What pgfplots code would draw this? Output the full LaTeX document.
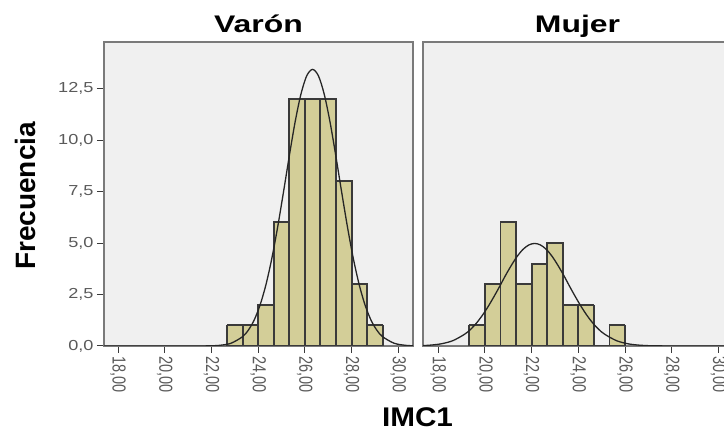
\documentclass[border=0pt]{standalone}
\usepackage{fontspec}
\setmainfont{Liberation Sans}
\usepackage{graphicx}
\usepackage{pgfplots}
\pgfplotsset{compat=1.18}
\definecolor{plotbg}{HTML}{F0F0F0}
\definecolor{barfill}{HTML}{D3CE98}
\definecolor{barline}{HTML}{3A3A3A}
\definecolor{framec}{HTML}{7A7A7A}
\definecolor{tlabel}{HTML}{5A5A5A}
\pgfplotsset{
  panel/.style={
    scale only axis, width=309pt, height=304pt, anchor=south west,
    ymin=0, ymax=14.76,
    xtick={18,20,...,30},
    axis background/.style={fill=plotbg},
    axis line style={draw=framec, line width=1.3pt},
    tick align=outside, major tick length=7pt,
    every tick/.style={draw=barline, line width=1pt},
    xtick pos=bottom, ytick pos=left,
    /pgf/number format/assume math mode=true,
    x tick label style={font=\fontsize{14.5}{15}\selectfont, text=tlabel, rotate=-90, anchor=west,
      /pgf/number format/.cd, fixed, fixed zerofill, precision=2, use comma},
    xticklabel={\scalebox{1}[1.3]{\pgfmathprintnumber{\tick}}},
    y tick label style={font=\fontsize{14.5}{15}\selectfont, text=tlabel,
      /pgf/number format/.cd, fixed, fixed zerofill, precision=1, use comma},
    yticklabel={\scalebox{1.25}[1]{\pgfmathprintnumber{\tick}}},
  },
  barsfill/.style={ybar interval, fill=barfill, draw=none},
  outline/.style={const plot, draw=barline, line width=1.9pt, mark=none},
  edges/.style={ycomb, draw=barline, line width=1.9pt, mark=none},
  curve/.style={smooth, draw=black!85, line width=1.3pt, mark=none},
}
\pgfplotstableread{
x y
22.667 1
23.333 1
24 2
24.667 6
25.333 12
26 12
26.667 12
27.333 8
28 3
28.667 1
29.333 1
}\varon
\pgfplotstableread{
x y
22.667 1
23.333 1
24 2
24.667 6
25.333 12
26 12
26.667 12
27.333 12
28 8
28.667 3
29.333 1
}\varonedges
\pgfplotstableread{
x y
19.333 1
20 3
20.667 6
21.333 3
22 4
22.667 5
23.333 2
24 2
24.667 2
}\mujerA
\pgfplotstableread{
x y
19.333 1
20 3
20.667 6
21.333 6
22 4
22.667 5
23.333 5
24 2
24.667 2
25.333 1
26 1
}\mujeredges
\pgfplotstableread{
x y
25.333 1
26 1
}\mujerB
\begin{document}
\begin{tikzpicture}
% Varon
\begin{axis}[panel, at={(104pt,84pt)}, xmin=17.40, xmax=30.63,
  ytick={0,2.5,5,7.5,10,12.5}]
\addplot[barsfill] table {\varon};
\addplot[outline] table {\varon};
\addplot[edges] table {\varonedges};
\addplot[draw=barline, line width=1.6pt] coordinates {(22.667,0) (29.333,0)};
\addplot[curve] coordinates {
(17.4,0) (20.5,0) (21.33,0.001) (21.83,0.006) (22.33,0.03) (22.83,0.13) (23.33,0.45) (23.58,0.77) (23.83,1.26) (24.08,1.98) (24.33,2.96) (24.58,4.22) (24.83,5.74) (25.08,7.44) (25.33,9.20) (25.58,10.86) (25.83,12.22) (26.08,13.12) (26.33,13.43) (26.58,13.12) (26.83,12.22) (27.08,10.86) (27.33,9.20) (27.58,7.44) (27.83,5.74) (28.08,4.22) (28.33,2.96) (28.58,1.98) (28.83,1.26) (29.08,0.77) (29.33,0.45) (29.83,0.13) (30.33,0.03) (30.64,0.01)};
\end{axis}
% Mujer
\begin{axis}[panel, at={(423pt,84pt)}, xmin=17.35, xmax=30.58, ytick=\empty]
\addplot[barsfill] table {\mujerA};
\addplot[barsfill] table {\mujerB};
\addplot[outline] table {\mujerA};
\addplot[outline] table {\mujerB};
\addplot[edges] table {\mujeredges};
\addplot[draw=barline, line width=1.6pt] coordinates {(19.333,0) (26,0)};
\addplot[curve] coordinates {
(17.35,0.02) (17.63,0.038) (18.13,0.105) (18.63,0.26) (19.13,0.57) (19.38,0.80) (19.63,1.10) (19.88,1.47) (20.13,1.90) (20.38,2.38) (20.63,2.89) (20.88,3.42) (21.13,3.91) (21.38,4.35) (21.63,4.69) (21.88,4.905) (22.13,4.98) (22.38,4.905) (22.63,4.69) (22.88,4.35) (23.13,3.91) (23.38,3.42) (23.63,2.89) (23.88,2.38) (24.13,1.90) (24.38,1.47) (24.63,1.10) (24.88,0.80) (25.13,0.57) (25.63,0.26) (26.13,0.105) (26.63,0.038) (27.13,0.012) (28.13,0.001) (30.6,0)};
\end{axis}
\node[anchor=base] at (258.5pt,397.7pt) {\scalebox{1.33}[1]{\fontsize{24}{26}\selectfont\bfseries Varón}};
\node[anchor=base] at (577.5pt,397.7pt) {\scalebox{1.33}[1]{\fontsize{24}{26}\selectfont\bfseries Mujer}};
\node[anchor=base, rotate=90] at (35pt,234pt) {\fontsize{28}{30}\selectfont\bfseries Frecuencia};
\node[anchor=base] at (417.5pt,3.5pt) {\scalebox{1.1}[1]{\fontsize{27}{29}\selectfont\bfseries IMC1}};
\pgfresetboundingbox
\path[use as bounding box] (0,0) rectangle (724pt,430pt);
\end{tikzpicture}
\end{document}
